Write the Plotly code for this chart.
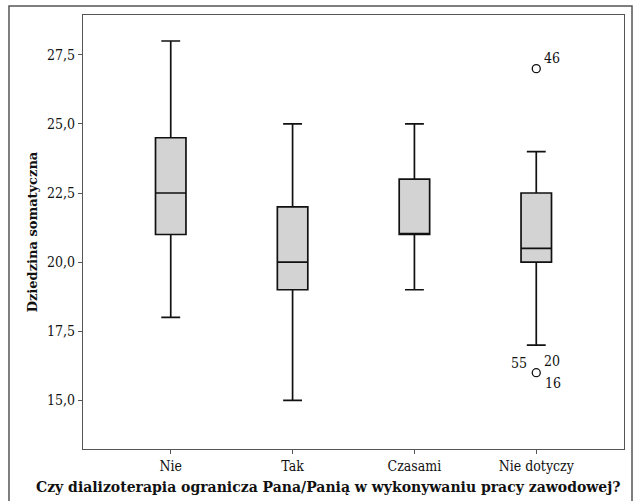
import plotly.graph_objects as go

categories = ["Nie", "Tak", "Czasami", "Nie dotyczy"]
lower_whisker = [18.0, 15.0, 19.0, 17.0]
q1 = [21.0, 19.0, 21.0, 20.0]
median = [22.5, 20.0, 21.0, 20.5]
q3 = [24.5, 22.0, 23.0, 22.5]
upper_whisker = [28.0, 25.0, 25.0, 24.0]

outlier_cat = ["Nie dotyczy", "Nie dotyczy"]
outlier_val = [27.0, 16.0]
outlier_labels = [["46"], ["55", "20", "16"]]

y_ticks = [15.0, 17.5, 20.0, 22.5, 25.0, 27.5]

x_title = "Czy dializoterapia ogranicza Pana/Panią w wykonywaniu pracy zawodowej?"
y_title = "Dziedzina somatyczna"

TICKFONT = "DejaVu Serif Condensed"
TITLEFONT = "DejaVu Serif"
xpos = list(range(len(categories)))

fig = go.Figure()
fig.add_trace(go.Box(
    x=xpos, q1=q1, median=median, q3=q3,
    lowerfence=lower_whisker, upperfence=upper_whisker,
    fillcolor="#d3d3d3", line=dict(color="#111111", width=1.7),
    width=0.25, whiskerwidth=0.62, boxpoints=False, showlegend=False,
    hoverinfo="skip",
))

ox = [categories.index(c) for c in outlier_cat]
fig.add_trace(go.Scatter(
    x=ox, y=outlier_val, mode="markers",
    marker=dict(symbol="circle-open", size=8, color="#111111", line=dict(width=1.3)),
    showlegend=False, hoverinfo="skip",
))

offsets = {1: [(16, 11)], 3: [(-17, 10), (16, 12), (17, -10)]}
for x, y, labs in zip(ox, outlier_val, outlier_labels):
    offs = offsets[len(labs)]
    for lab, (dx, dy) in zip(labs, offs):
        fig.add_annotation(x=x, y=y, text=lab, showarrow=False,
                           xshift=dx, yshift=dy,
                           font=dict(family=TICKFONT, size=14, color="#111111"))

# x-axis title as annotation centred like the reference
fig.add_annotation(xref="paper", yref="paper", x=0.4547, y=-0.088,
                   text="<b>" + x_title + "</b>", showarrow=False,
                   xanchor="center", yanchor="middle",
                   font=dict(family=TITLEFONT, size=14, color="#111111"))

# outer frame (left, top, right)
fig.add_shape(type="path", xref="paper", yref="paper",
              path="M -0.1368,-0.2 L -0.1368,1.0207 L 1.0148,1.0207 L 1.0148,-0.2",
              line=dict(color="#555555", width=1.5), layer="above")

fig.update_layout(
    width=639, height=501,
    margin=dict(l=83, r=15, t=15, b=52),
    paper_bgcolor="white", plot_bgcolor="white",
    separators=", ",
    font=dict(family=TICKFONT, size=14, color="#111111"),
    xaxis=dict(
        range=[-0.72, 3.72], tickvals=xpos, ticktext=categories,
        showgrid=False, zeroline=False, showline=True, mirror=True,
        linecolor="#555555", linewidth=1.3, automargin=False,
        ticks="outside", ticklen=4, tickcolor="#555555",
        tickfont=dict(family=TICKFONT, size=14),
    ),
    yaxis=dict(
        range=[13.24, 28.94], tickvals=y_ticks, tickformat=".1f",
        showgrid=False, zeroline=False, showline=True, mirror=True,
        linecolor="#555555", linewidth=1.3, automargin=False,
        ticks="outside", ticklen=4, tickcolor="#555555",
        tickfont=dict(family=TICKFONT, size=14),
        title=dict(text="<b>" + y_title + "</b>",
                   font=dict(family=TITLEFONT, size=13), standoff=6),
    ),
)

fig.write_html("out.html", config={"displayModeBar": False},
               post_script="document.body.style.margin='0';document.body.style.padding='0';")
